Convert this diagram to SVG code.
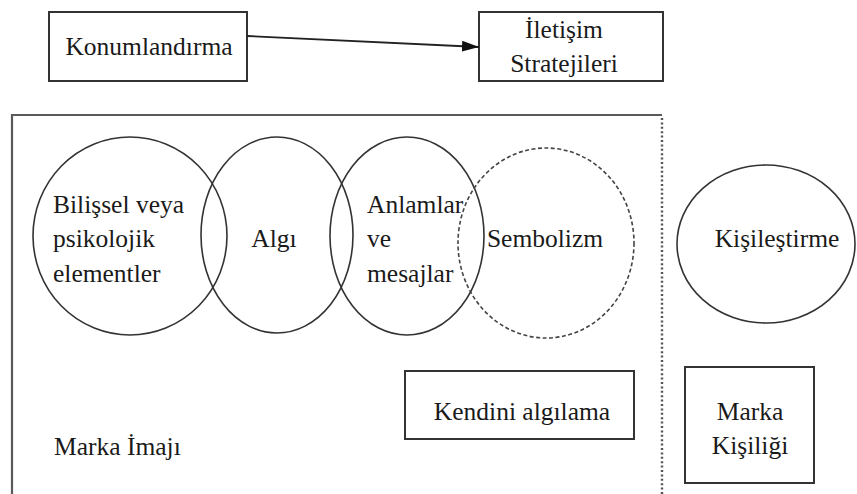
<svg xmlns="http://www.w3.org/2000/svg" width="857" height="494" viewBox="0 0 857 494">
  <defs>
    <marker id="arrow" markerWidth="18" markerHeight="12" refX="17" refY="6" orient="auto" markerUnits="userSpaceOnUse">
      <path d="M0,0.5 L17,6 L0,11.5 Z" fill="#111"/>
    </marker>
  </defs>
  <style>
    text { font-family: "Liberation Serif", Tinos, "Times New Roman", Times, "Nimbus Roman", "Noto Serif", "DejaVu Serif", FreeSerif, serif; font-size: 25.5px; fill: #1a1a1a; }
    .box { fill: #fff; stroke: #333; stroke-width: 2; }
    .ring { fill: none; stroke: #333; stroke-width: 1.6; }
    .ring-dashed { fill: none; stroke: #444; stroke-width: 1.6; stroke-dasharray: 4 2.5; }
    .frame { fill: none; stroke: #5a5a5a; stroke-width: 2.2; }
    .dotted { fill: none; stroke: #555; stroke-width: 2.4; stroke-dasharray: 2 2.4; }
    .mid { text-anchor: middle; }
  </style>

  <rect width="857" height="494" fill="#fff"/>

  <!-- brand image frame: solid left/top, dotted right edge -->
  <g id="marka-imaji-frame">
    <path class="frame" d="M12,494 L12,115 L662,115"/>
    <line class="dotted" x1="662" y1="118" x2="662" y2="494"/>
    <text x="54" y="455">Marka İmajı</text>
  </g>

  <g id="konumlandirma">
    <rect class="box" x="49" y="12" width="198" height="69"/>
    <text x="149" y="55" class="mid">Konumlandırma</text>
  </g>

  <g id="iletisim-stratejileri">
    <rect class="box" x="479" y="12" width="184" height="69"/>
    <text x="564" y="38" class="mid">İletişim</text>
    <text x="564" y="72" class="mid">Stratejileri</text>
  </g>

  <g id="bilissel">
    <ellipse class="ring" cx="130" cy="236" rx="97" ry="99"/>
    <text x="53" y="213">Bilişsel veya</text>
    <text x="53" y="247">psikolojik</text>
    <text x="53" y="282">elementler</text>
  </g>

  <g id="algi">
    <ellipse class="ring" cx="277" cy="235" rx="76" ry="98"/>
    <text x="274" y="247" class="mid">Algı</text>
  </g>

  <g id="anlamlar">
    <ellipse class="ring" cx="407" cy="236" rx="77" ry="99"/>
    <text x="367" y="213">Anlamlar</text>
    <text x="367" y="247">ve</text>
    <text x="367" y="282">mesajlar</text>
  </g>

  <g id="sembolizm">
    <ellipse class="ring-dashed" cx="546" cy="243" rx="88" ry="95"/>
    <text x="545" y="247" class="mid">Sembolizm</text>
  </g>

  <g id="kisilestirme">
    <ellipse class="ring" cx="766" cy="244" rx="89" ry="79"/>
    <text x="777" y="247" class="mid">Kişileştirme</text>
  </g>

  <g id="kendini-algilama">
    <rect class="box" x="405" y="371" width="229" height="68"/>
    <text x="522" y="420" class="mid">Kendini algılama</text>
  </g>

  <g id="marka-kisiligi">
    <rect class="box" x="685" y="367" width="129" height="116"/>
    <text x="750" y="420" class="mid">Marka</text>
    <text x="750" y="454" class="mid">Kişiliği</text>
  </g>

  <g id="connectors">
    <line x1="247" y1="36" x2="479" y2="47" stroke="#222" stroke-width="1.8" marker-end="url(#arrow)"/>
  </g>
</svg>
